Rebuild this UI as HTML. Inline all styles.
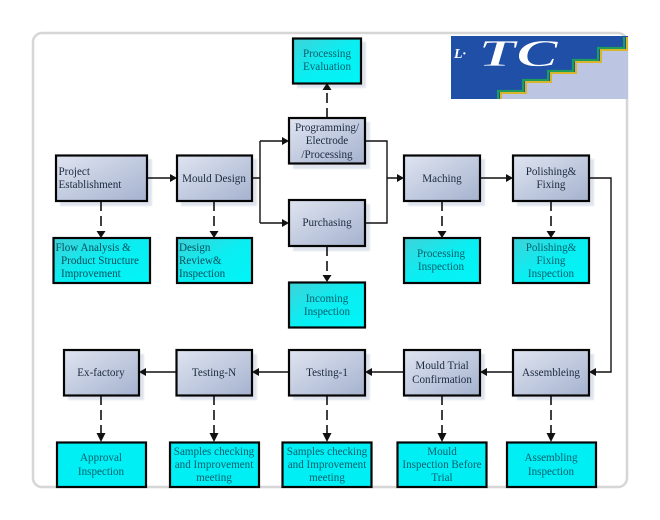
<!DOCTYPE html>
<html>
<head>
<meta charset="utf-8">
<style>
html,body{margin:0;padding:0;background:#fff;}
svg{display:block;}
text{font-family:"Liberation Serif",serif;font-size:11.1px;}
.b{fill:#1c2a3e;text-anchor:middle;}
.bl{fill:#1c2a3e;text-anchor:start;}
.c{fill:#05606e;text-anchor:middle;}
.cl{fill:#05505e;text-anchor:start;}
.bx{stroke:#050505;stroke-width:2.2;}
.sh{fill:#dfe4ee;}
.ln{fill:none;stroke:#111;stroke-width:1.4;}
.da{fill:none;stroke:#111;stroke-width:1.6;stroke-dasharray:10 5;}
</style>
</head>
<body>
<svg width="660" height="520" viewBox="0 0 660 520" xmlns="http://www.w3.org/2000/svg">
<defs>
<linearGradient id="g" x1="0" y1="0" x2="1" y2="1"><stop offset="0" stop-color="#dfe4f0"/><stop offset="1" stop-color="#a5b2cf"/></linearGradient>
<linearGradient id="y" x1="0" y1="0" x2="1" y2="1"><stop offset="0" stop-color="#3fd2d8"/><stop offset="0.5" stop-color="#0aeef2"/><stop offset="1" stop-color="#00f5f8"/></linearGradient>
<filter id="bl" x="-20%" y="-20%" width="140%" height="140%"><feGaussianBlur stdDeviation="0.9"/></filter>
</defs>
<rect x="33" y="33" width="594" height="454" rx="9" fill="#fff" stroke="#d6d6d6" stroke-width="2.5"/>

<!-- logo -->
<rect x="451" y="36" width="177" height="63" fill="#1f4fa6"/>
<polygon points="500,99 500,93 525,93 525,82 550,82 550,73 575,73 575,62 600,62 600,50 628,50 628,99" fill="#bcc6e2"/>
<polyline points="498,99 498,91 523,91 523,80 548,80 548,71 573,71 573,60 598,60 598,48 624,48 624,37" fill="none" stroke="#1f9c5c" stroke-width="2.2"/>
<polyline points="501,99 501,93 526,93 526,82 551,82 551,73 576,73 576,62 601,62 601,50 627,50 627,37" fill="none" stroke="#d9b52c" stroke-width="2"/>
<text x="454" y="58" style="font-size:14px;font-style:italic;fill:#fff;font-weight:bold">L·</text>
<text x="478" y="66" textLength="80" lengthAdjust="spacingAndGlyphs" style="font-size:38px;font-style:italic;font-weight:bold;fill:#fff;stroke:#1f4fa6;stroke-width:.7">TC</text>

<!-- shadows -->
<g class="sh" filter="url(#bl)">
<rect x="60" y="159" width="92" height="47"/><rect x="181" y="159" width="76" height="47"/>
<rect x="297" y="42" width="69" height="46"/><rect x="293" y="122" width="77" height="47"/>
<rect x="293" y="204" width="77" height="47"/><rect x="408" y="159" width="77" height="47"/>
<rect x="517" y="159" width="77" height="47"/><rect x="68" y="354" width="76" height="46"/>
<rect x="180" y="354" width="77" height="46"/><rect x="293" y="354" width="77" height="46"/>
<rect x="408" y="354" width="77" height="46"/><rect x="517" y="354" width="77" height="46"/>
</g>

<!-- solid connectors -->
<path class="ln" d="M147 178H170M252 178H260M260 141V223M260 141H282M260 223H282M365 141H387V223H365M387 178H397M480 178H506M589 178H611V372H596M513 372H487M404 372H372M289 372H259M176 372H146"/>
<g fill="#111">
<path d="M177 178l-7-4v8zM289 141l-7-4v8zM289 223l-7-4v8zM404 178l-7-4v8zM513 178l-7-4v8z"/>
<path d="M589 372l7-4v8zM480 372l7-4v8zM365 372l7-4v8zM252 372l7-4v8zM139 372l7-4v8z"/>
</g>

<!-- dashed connectors -->
<path class="da" d="M101 201V232M214 201V232M327 118V92M327 246V276M442 201V232M551 201V232M101 395V435M214 395V435M327 395V435M442 395V435M551 395V435"/>
<g fill="#111">
<path d="M101 238l-4.500-7h9zM214 238l-4.500-7h9zM327 83l-4.500 7h9zM327 282l-4.500-7h9zM442 238l-4.500-7h9zM551 238l-4.500-7h9z"/>
<path d="M101 442l-4.500-9h9zM214 442l-4.500-9h9zM327 442l-4.500-9h9zM442 442l-4.500-9h9zM551 442l-4.500-9h9z"/>
</g>

<!-- blue boxes -->
<g fill="url(#g)" class="bx">
<rect class="bx" x="56" y="155.500" width="91" height="45.500"/>
<rect class="bx" x="177" y="155.500" width="75" height="45.500"/>
<rect class="bx" x="289" y="118" width="76" height="45.500"/>
<rect class="bx" x="289" y="200" width="76" height="46"/>
<rect class="bx" x="404" y="155.500" width="76" height="45.500"/>
<rect class="bx" x="513" y="155.500" width="76" height="45.500"/>
<rect class="bx" x="64" y="350" width="75" height="45.500"/>
<rect class="bx" x="176.500" y="350" width="75.500" height="45.500"/>
<rect class="bx" x="289" y="350" width="76" height="45.500"/>
<rect class="bx" x="404" y="350" width="76" height="45.500"/>
<rect class="bx" x="513" y="350" width="76" height="45.500"/>
</g>

<!-- cyan boxes -->
<g fill="url(#y)">
<rect class="bx" x="293" y="38.500" width="68" height="45"/>
<rect class="bx" x="53.500" y="238" width="96.500" height="45"/>
<rect class="bx" x="177" y="238" width="75" height="45"/>
<rect class="bx" x="289" y="282.500" width="76" height="45"/>
<rect class="bx" x="404" y="238" width="76" height="45"/>
<rect class="bx" x="513" y="238" width="76" height="45"/>
</g>
<g fill="#00eff4">
<rect class="bx" x="57" y="442.500" width="89" height="44.500"/>
<rect class="bx" x="170" y="442.500" width="89" height="44.500"/>
<rect class="bx" x="282.500" y="442.500" width="89" height="44.500"/>
<rect class="bx" x="397.500" y="442.500" width="89" height="44.500"/>
<rect class="bx" x="507" y="442.500" width="89" height="44.500"/>
</g>

<!-- blue labels -->
<text class="bl" x="58.500" y="175">Project</text>
<text class="bl" x="58.500" y="188">Establishment</text>
<text class="b" x="214" y="182">Mould Design</text>
<text class="b" x="327" y="131">Programming/</text>
<text class="b" x="327" y="144">Electrode</text>
<text class="b" x="327" y="158">/Processing</text>
<text class="b" x="327" y="226">Purchasing</text>
<text class="b" x="442" y="182">Maching</text>
<text class="b" x="551" y="175">Polishing&amp;</text>
<text class="b" x="551" y="188">Fixing</text>
<text class="b" x="101" y="376">Ex-factory</text>
<text class="b" x="214" y="376">Testing-N</text>
<text class="b" x="327" y="376">Testing-1</text>
<text class="b" x="442" y="369">Mould Trial</text>
<text class="b" x="442" y="383">Confirmation</text>
<text class="b" x="551" y="376">Assembleing</text>

<!-- cyan labels -->
<text class="c" x="327" y="57">Processing</text>
<text class="c" x="327" y="70">Evaluation</text>
<text class="cl" x="55.500" y="251">Flow Analysis &amp;</text>
<text class="cl" x="61" y="264">Product Structure</text>
<text class="cl" x="61" y="277">Improvement</text>
<text class="cl" x="179" y="251">Design</text>
<text class="cl" x="179" y="264">Review&amp;</text>
<text class="cl" x="179" y="277">Inspection</text>
<text class="c" x="327" y="302">Incoming</text>
<text class="c" x="327" y="315">Inspection</text>
<text class="c" x="441" y="257">Processing</text>
<text class="c" x="441" y="270">Inspection</text>
<text class="c" x="551" y="251">Polishing&amp;</text>
<text class="c" x="551" y="264">Fixing</text>
<text class="c" x="551" y="277">Inspection</text>
<text class="c" x="101" y="461">Approval</text>
<text class="c" x="101" y="475">Inspection</text>
<text class="c" x="214" y="455">Samples checking</text>
<text class="c" x="214" y="468">and Improvement</text>
<text class="c" x="214" y="481">meeting</text>
<text class="c" x="327" y="455">Samples checking</text>
<text class="c" x="327" y="468">and Improvement</text>
<text class="c" x="327" y="481">meeting</text>
<text class="c" x="442" y="455">Mould</text>
<text class="c" x="442" y="468">Inspection Before</text>
<text class="c" x="442" y="481">Trial</text>
<text class="c" x="551" y="461">Assembling</text>
<text class="c" x="551" y="475">Inspection</text>
</svg>
</body>
</html>
